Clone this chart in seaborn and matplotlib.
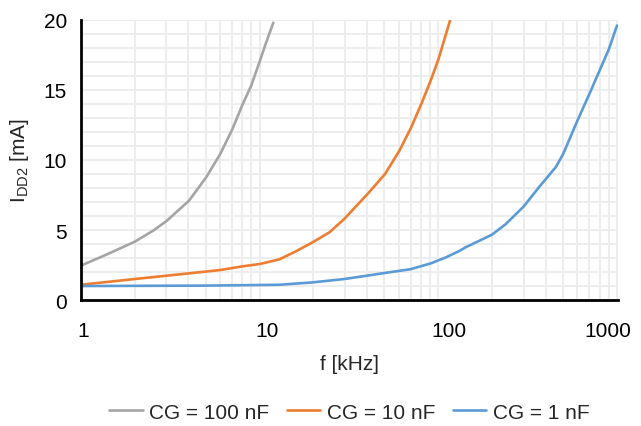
import pandas as pd
import numpy as np
import matplotlib
matplotlib.use('Agg')
import matplotlib.pyplot as plt
from matplotlib.ticker import LogLocator, MultipleLocator, FixedLocator, NullFormatter
from matplotlib.transforms import ScaledTranslation
import seaborn as sns

# Values (f in kHz, I_DD2 in mA)
f_100nF = [1, 1.39, 2, 2.54, 3.03, 4.03, 5.03, 6.03, 7.05, 8.0, 8.98, 10.0, 10.9, 11.95]
i_100nF = [2.45, 3.24, 4.16, 4.95, 5.66, 7.09, 8.76, 10.43, 12.2, 13.9, 15.3, 17.0, 18.4, 19.8]

f_10nF = [1, 2, 4, 6, 8, 10, 12.9, 16.0, 19.8, 24.6, 29.8, 40.2, 50.4, 60.6, 70.4, 81, 90.9, 100.3, 110.5, 116.7]
i_10nF = [1.09, 1.5, 1.9, 2.14, 2.4, 2.57, 2.9, 3.48, 4.12, 4.83, 5.79, 7.57, 9.0, 10.66, 12.3, 14.1, 15.7, 17.2, 19.0, 20.0]

f_1nF = [1, 5, 12.9, 19.8, 29.8, 40, 50, 70, 91, 110.5, 131, 142, 200, 239, 300, 366, 455, 500, 600, 700, 800, 900, 1000]
i_1nF = [1.0, 1.03, 1.09, 1.26, 1.5, 1.74, 1.93, 2.2, 2.62, 3.05, 3.5, 3.76, 4.67, 5.43, 6.67, 8.05, 9.5, 10.43, 12.8, 14.7, 16.4, 17.9, 19.6]

series = ['CG = 100 nF', 'CG = 10 nF', 'CG = 1 nF']
colors = ['#a5a5a5', '#ed7d31', '#5b9bd5']
x_ticks = [1, 10, 100, 1000]
y_ticks = [0, 5, 10, 15, 20]

df = pd.concat([
    pd.DataFrame({'f': f_100nF, 'I': i_100nF, 'CG': series[0]}),
    pd.DataFrame({'f': f_10nF, 'I': i_10nF, 'CG': series[1]}),
    pd.DataFrame({'f': f_1nF, 'I': i_1nF, 'CG': series[2]}),
])

sns.set_style("white")
plt.rcParams['font.family'] = ['Liberation Sans', 'DejaVu Sans']
plt.rcParams['mathtext.fontset'] = 'custom'
plt.rcParams['mathtext.rm'] = 'Liberation Sans'

fs = 15
fig = plt.figure(figsize=(6.41, 4.27), dpi=100)
ax = fig.add_axes([0.126, 0.295, 0.838, 0.656])

sns.lineplot(data=df, x='f', y='I', hue='CG', hue_order=series,
             palette=colors, linewidth=1.9, sort=False, estimator=None, ax=ax)
for ln in ax.lines:
    ln.set_solid_joinstyle('round')

ax.set_xscale('log')
ax.set_xlim(1, 1012)
ax.set_ylim(0, 20)

ax.xaxis.set_major_locator(FixedLocator(x_ticks))
ax.set_xticklabels([str(t) for t in x_ticks])
ax.xaxis.set_minor_locator(LogLocator(base=10, subs=np.arange(2, 10)))
ax.xaxis.set_minor_formatter(NullFormatter())
ax.yaxis.set_major_locator(FixedLocator(y_ticks))
ax.yaxis.set_minor_locator(MultipleLocator(1))

ax.grid(True, which='both', color='#ececec', linewidth=1.3)
ax.set_axisbelow(True)
ax.tick_params(which='both', length=0, labelsize=fs, colors='black')
ax.tick_params(axis='x', pad=15)
ax.tick_params(axis='y', pad=10)

for s in ['top', 'right']:
    ax.spines[s].set_visible(False)
for s in ['left', 'bottom']:
    ax.spines[s].set_color('black')
    ax.spines[s].set_linewidth(2)

# the source chart nudges its x labels a little off the gridlines
for lab, dx in zip(ax.get_xticklabels(), [2, 8, 11, -9]):
    lab.set_transform(lab.get_transform() + ScaledTranslation(dx / 100, 0, fig.dpi_scale_trans))

ax.set_xlabel('f [kHz]', fontsize=fs, labelpad=10.5)
ax.set_ylabel(r'I$_\mathrm{DD2}$ [mA]', fontsize=fs, labelpad=9)

ax.legend(loc='center', bbox_to_anchor=(0.5, -0.40), ncol=3, frameon=False,
          fontsize=fs, handlelength=1.6, columnspacing=0.86, handletextpad=0.3)

fig.savefig('out.png', dpi=100)
